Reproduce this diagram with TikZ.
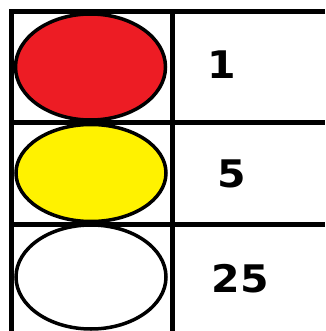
\documentclass[tikz,border=0pt]{standalone}
\usepackage{fontspec}
\setmainfont{DejaVu Sans}
\usetikzlibrary{shapes.geometric}

\definecolor{lampred}{HTML}{ED1C24}
\definecolor{lampyellow}{HTML}{FFF200}

\begin{document}
\begin{tikzpicture}[
  x=1pt,y=-1pt,
  grid/.style={line width=5pt},
  lamp/.style={ellipse,draw,line width=3.5pt,minimum width=150pt,minimum height=104pt,inner sep=0pt},
  count/.style={font=\bfseries\fontsize{38}{38}\selectfont,xscale=1.08}
]
  \useasboundingbox (0,0) rectangle (325,331);

  % table
  \draw[grid] (325,12) -- (11,12) -- (11,331);
  \draw[grid] (172,12) -- (172,331);
  \draw[grid] (11,123) -- (325,123);
  \draw[grid] (11,224.5) -- (325,224.5);

  % lamps
  \node[lamp,fill=lampred,minimum height=106pt] (red) at (90.5,67) {};
  \node[lamp,fill=lampyellow,minimum height=97pt] (yellow) at (91,173) {};
  \node[lamp,fill=white] (white) at (91,277) {};

  % values
  \node[count] (one) at (222,65) {1};
  \node[count] (five) at (232,174) {5};
  \node[count] (twentyfive) at (240,279) {25};
\end{tikzpicture}
\end{document}
